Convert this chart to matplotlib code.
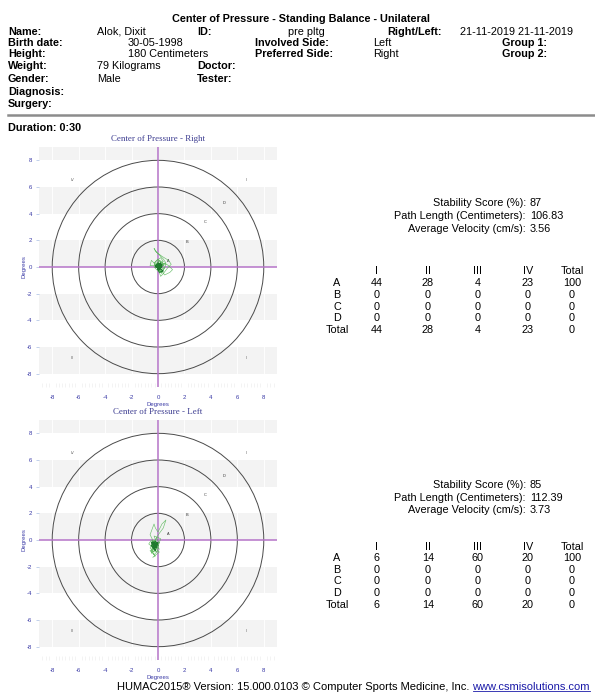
import matplotlib
matplotlib.use("Agg")
import matplotlib.pyplot as plt
from matplotlib.patches import Circle

plt.rcParams['font.family'] = ['Liberation Sans', 'DejaVu Sans']
plt.rcParams['axes.unicode_minus'] = False

W, H = 595, 693
FS = 7.8

# patient header: (label, value) pairs laid out in rows
header_left = [("Name:", "Alok, Dixit"), ("Birth date:", "30-05-1998"),
               ("Height:", "180 Centimeters"), ("Weight:", "79 Kilograms"),
               ("Gender:", "Male"), ("Diagnosis:", ""), ("Surgery:", "")]
header_mid = [("ID:", "pre pltg"), ("Involved Side:", "Left"),
              ("Preferred Side:", "Right"), ("Doctor:", ""), ("Tester:", "")]
header_right = [("Right/Left:", "21-11-2019 21-11-2019"), ("Group 1:", ""),
                ("Group 2:", "")]

ticks = [-8, -6, -4, -2, 0, 2, 4, 6, 8]
rings = [2, 4, 6, 8]
ring_names = ["A", "B", "C", "D"]
quadrant_names = ["I", "II", "III", "IV"]

stat_labels = ["Stability Score (%):", "Path Length (Centimeters):",
               "Average Velocity (cm/s):"]
right_stats = ["87", "106.83", "3.56"]
left_stats = ["85", "112.39", "3.73"]

col_names = ["I", "II", "III", "IV", "Total"]
row_names = ["A", "B", "C", "D", "Total"]
right_counts = [[44, 28, 4, 23, 100], [0, 0, 0, 0, 0], [0, 0, 0, 0, 0],
                [0, 0, 0, 0, 0], [44, 28, 4, 23, 0]]
left_counts = [[6, 14, 60, 20, 100], [0, 0, 0, 0, 0], [0, 0, 0, 0, 0],
               [0, 0, 0, 0, 0], [6, 14, 60, 20, 0]]

# centre of pressure sway traces (degrees)
right_x = [0.0, 0.2, 0.1, 0.3, 0.1, -0.2, 0.4, 0.2, -0.3, 0.1, 0.5, 0.3,
           0.1, 0.2, 0.6, 0.4, 0.1, -0.2, -0.3, -0.1, 0.3, 0.8, 1.0, 0.7,
           0.4, 0.2, 0.1, -0.3, -0.2, 0.0, 0.1, 0.2, 0.3, -0.2, 0.1, 0.3,
           0.5, 0.9, 1.1, 0.8, 0.5, 0.2, 0.0, -0.2, -0.5, -0.6, -0.3, 0.0,
           0.2, 0.4, 0.3, 0.1, -0.1, 0.1, 0.2, 0.5, 0.6, 0.3, 0.1, 0.0]
right_y = [0.0, 0.3, 0.5, 0.2, -0.2, 0.1, 0.4, 0.7, 0.3, -0.3, 0.0, -0.4,
           -0.1, 0.2, 0.3, 0.6, 0.9, 1.2, 1.4, 1.1, 0.8, 0.5, 0.2, -0.1,
           -0.5, -0.7, -0.4, 0.0, 0.4, 0.6, 0.2, -0.2, -0.5, 0.2, 0.1, -0.3,
           -0.6, -0.4, -0.2, 0.1, 0.3, 0.0, 0.4, 0.2, 0.5, 0.1, 0.1, 0.2,
           -0.1, 0.1, 0.4, 0.5, 0.2, -0.2, -0.4, -0.1, 0.2, 0.1, -0.1, 0.1]
right_core_x = [0.0, 0.2, -0.1, 0.1, 0.3, 0.0, -0.2, 0.1, 0.2, -0.1, 0.0,
                0.3, 0.1, -0.2, 0.0, 0.2, 0.1, -0.1, 0.2, 0.0, 0.4, 0.1,
                -0.1, 0.3, 0.0, 0.2]
right_core_y = [0.1, 0.0, 0.2, -0.2, 0.1, 0.3, 0.0, -0.1, 0.3, 0.1, -0.2,
                0.0, 0.2, 0.1, -0.1, 0.2, -0.2, 0.0, 0.1, 0.0, -0.3, -0.4,
                0.1, 0.2, -0.1, 0.0]

left_x = [-0.2, -0.4, -0.1, -0.5, -0.3, 0.0, -0.6, -0.2, -0.4, 0.1, -0.3,
          -0.7, -0.5, -0.1, -0.3, 0.2, 0.0, -0.2, -0.5, -0.4, -0.1, 0.1,
          0.4, 0.6, 0.3, 0.0, -0.2, -0.3, -0.6, -0.4, -0.2, 0.0, -0.3,
          -0.5, -0.2, 0.1, -0.1, -0.4, -0.6, -0.3, -0.1, -0.2, -0.4, -0.2,
          0.0, -0.3, -0.5, -0.2, 0.1, -0.1, -0.3, -0.2]
left_y = [-0.3, -0.6, -0.9, -0.5, -0.1, -0.4, -0.8, -1.2, -1.3, -0.9, -0.6,
          -0.3, 0.0, -0.2, 0.3, 0.1, -0.5, -0.7, -1.0, -0.4, 0.2, 0.5, 0.9,
          1.5, 1.2, 0.6, 0.9, 1.2, 0.4, 0.0, -0.3, -0.8, -1.1, -0.7, -0.5,
          -0.2, 0.1, -0.2, -0.6, -0.9, -0.4, 0.0, -0.3, -0.6, -0.2, -0.5,
          -0.1, -0.4, -0.7, -0.3, -0.1, -0.3]
left_core_x = [-0.2, -0.4, -0.1, -0.3, -0.5, -0.2, 0.0, -0.3, -0.1, -0.4,
               -0.2, -0.3, 0.0, -0.2, -0.4, -0.3, -0.1, -0.2, -0.5, -0.1]
left_core_y = [-0.3, -0.5, -0.2, -0.7, -0.4, -0.1, -0.4, -0.2, -0.6, -0.3,
               -0.8, -0.5, -0.2, -0.4, -0.1, -0.6, -0.3, -0.4, -0.2, -0.5]

BLUE = '#3a3aa6'
PURPLE = '#b574c8'


def px(x, y):
    # y is the visual middle of a text line; shift to its baseline
    return x / W, 1 - (y + 4) / H


def draw_panel(ax, title, tx, ty, cx, cy):
    ax.set_xlim(-9, 9)
    ax.set_ylim(-9, 9)
    ax.set_facecolor('white')
    for s in ax.spines.values():
        s.set_visible(False)
    # alternating grey bands
    for lo in [-8, -4, 0, 4, 8]:
        ax.axhspan(lo, lo + 2, color='#f3f3f3', lw=0, zorder=0)
    ax.set_xticks(ticks)
    ax.set_yticks(ticks)
    ax.set_xticks([t / 4 for t in range(-35, 36)], minor=True)
    ax.grid(axis='x', which='major', color='white', lw=0.6, zorder=0.5)
    ax.tick_params(axis='both', which='major', labelsize=4.3,
                   labelcolor=BLUE, color='#a8bde3', length=2.5, width=0.5,
                   pad=2.5)
    ax.tick_params(axis='x', which='minor', color='#ebebeb', length=3,
                   width=0.4, direction='in')
    ax.tick_params(axis='x', which='major', length=0, pad=6)
    ax.set_xlabel("Degrees", fontsize=4.3, color=BLUE, labelpad=1)
    ax.set_ylabel("Degrees", fontsize=4.3, color=BLUE, labelpad=0)
    ax.set_title(title, family='Liberation Serif', fontsize=6.4,
                 color='#3c3c90', pad=4)

    for r in rings:
        ax.add_patch(Circle((0, 0), r, fill=False, ec='#4a4a4a', lw=0.7,
                            zorder=2))
    ax.axhline(0, color=PURPLE, lw=1.1, zorder=3)
    ax.axvline(0, color=PURPLE, lw=1.1, zorder=3)

    # ring and quadrant markers
    for name, (lx, ly) in zip(ring_names, [(0.8, 0.45), (2.2, 1.9),
                                          (3.6, 3.4), (5.0, 4.8)]):
        ax.text(lx, ly, name, fontsize=2.8, color='#333333',
                ha='center', va='center', zorder=4)
    for name, (qx, qy) in zip(quadrant_names, [(6.7, 6.5), (6.7, -6.8),
                                              (-6.5, -6.8), (-6.5, 6.5)]):
        ax.text(qx, qy, name, fontsize=2.8, color='#555555',
                ha='center', va='center', zorder=4)

    ax.plot(tx, ty, color='#5cb85c', lw=0.45, alpha=0.9, zorder=5)
    ax.plot(cx, cy, color='#1f7a2e', lw=0.8, zorder=6)


def put(x, y, s, **kw):
    kw.setdefault('fontsize', FS)
    return fig.text(*px(x, y), s, va='baseline', **kw)


def draw_stats(values, counts, stat_y, table_y):
    for lab, val, y in zip(stat_labels, values, stat_y):
        put(526, y, lab, ha='right')
        put(530, y, val, ha='left')
    col_x = [377, 428, 478, 528, 572]
    for name, x in zip(col_names, col_x):
        put(x, table_y[0], name, ha='center')
    for name, row, y in zip(row_names, counts, table_y[1:]):
        put(337, y, name, ha='center')
        for v, x in zip(row, col_x):
            put(x, y, str(v), ha='center')


fig = plt.figure(figsize=(W / 100, H / 100), dpi=100)

put(301, 18, "Center of Pressure - Standing Balance - Unilateral",
    ha='center', fontweight='bold')
row_y = [31, 42, 53, 65, 78, 91, 103]
for (lab, val), y in zip(header_left, row_y):
    put(8, y, lab, fontweight='bold')
    put(128 if lab in ("Birth date:", "Height:") else 97, y, val)
for (lab, val), y in zip(header_mid, row_y):
    put(197 if lab in ("ID:", "Doctor:", "Tester:") else 255, y, lab,
        fontweight='bold')
    put(288 if lab == "ID:" else 373, y, val)
put(387, 31, header_right[0][0], fontweight='bold')
put(460, 31, header_right[0][1])
for (lab, val), y in zip(header_right[1:], row_y[1:3]):
    put(502, y, lab, fontweight='bold')

fig.add_artist(plt.Line2D([8 / W, 1], [1 - 115 / H] * 2, color='#8c8c8c',
                          lw=1.8))
put(8, 127, "Duration: 0:30", fontweight='bold')

ax_r = fig.add_axes([39 / W, 1 - 387 / H, 238 / W, 240 / H])
draw_panel(ax_r, "Center of Pressure - Right", right_x, right_y,
           right_core_x, right_core_y)
ax_l = fig.add_axes([39 / W, 1 - 660 / H, 238 / W, 240 / H])
draw_panel(ax_l, "Center of Pressure - Left", left_x, left_y,
           left_core_x, left_core_y)

draw_stats(right_stats, right_counts, [202, 215, 228],
           [270, 282, 294, 306, 317, 329])
draw_stats(left_stats, left_counts, [484, 497, 509],
           [546, 557, 569, 580, 592, 604])

# footer with underlined link
fig.canvas.draw()
renderer = fig.canvas.get_renderer()
url = put(590, 686, "www.csmisolutions.com", ha='right', fontsize=8,
          color='#1a1aa8')
bb = url.get_window_extent(renderer)
fig.text(bb.x0 / W - 3 / W, 1 - 690 / H,
         "HUMAC2015\u00ae Version: 15.000.0103 \u00a9 Computer Sports Medicine, Inc.",
         ha='right', va='baseline', fontsize=8)
fig.add_artist(plt.Line2D([bb.x0 / W, bb.x1 / W], [1 - 691.3 / H] * 2,
                          color='#1a1aa8', lw=0.6))

fig.savefig("out.png", dpi=100)
